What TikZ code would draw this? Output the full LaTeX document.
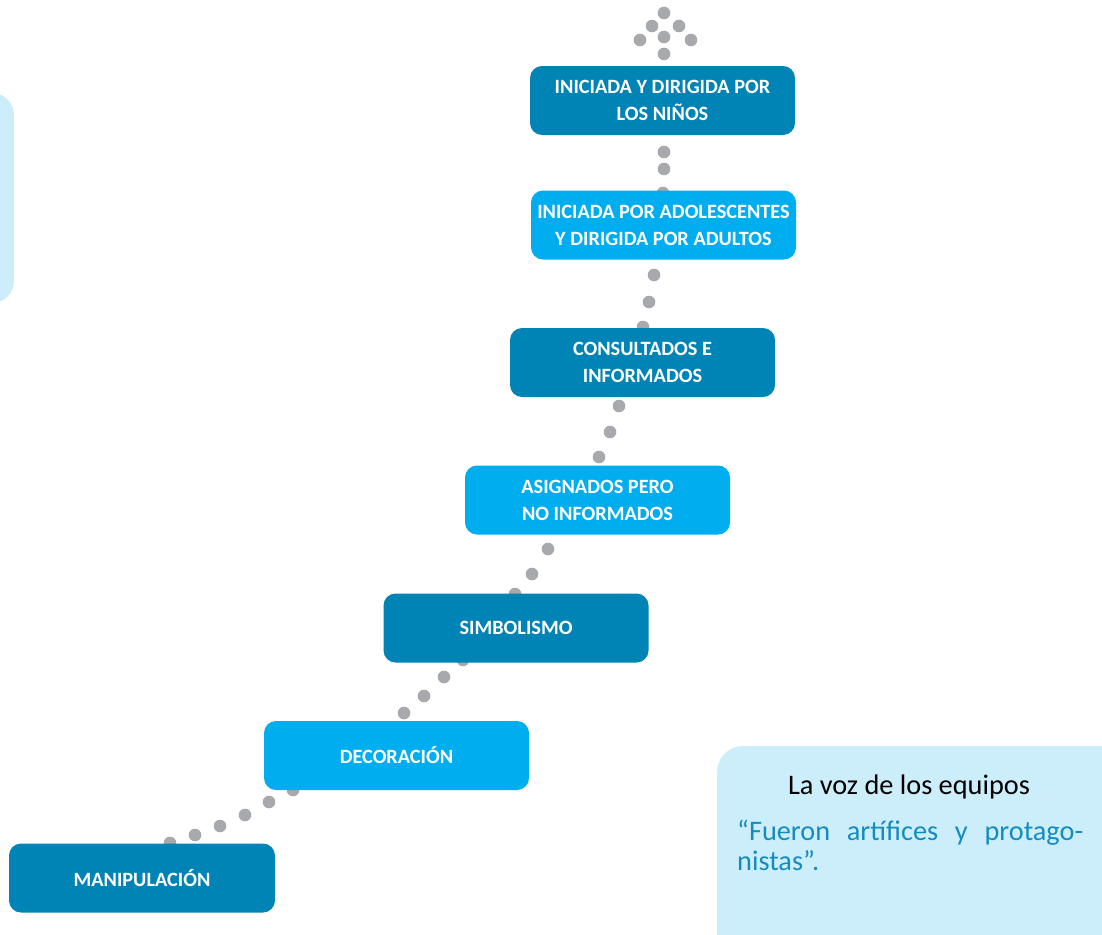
\documentclass[tikz,border=0pt]{standalone}
\usepackage{fontspec}
\setmainfont{Carlito}
\definecolor{darkb}{RGB}{0,131,181}
\definecolor{lightb}{RGB}{0,174,239}
\definecolor{paleb}{RGB}{204,238,250}
\definecolor{dotg}{RGB}{167,169,172}
\definecolor{quoteb}{RGB}{20,140,192}
\tikzset{
  level/.style={rectangle, rounded corners=12pt, minimum width=265pt, minimum height=69pt,
    inner sep=2pt, text=white, align=center,
    font=\fontsize{20.3}{27}\selectfont\bfseries},
  darklevel/.style={level, fill=darkb},
  lightlevel/.style={level, fill=lightb},
  dotc/.style={fill=dotg, draw=none},
}
\begin{document}
\begin{tikzpicture}[x=1pt,y=-1pt]
\useasboundingbox (0,0) rectangle (1102,934);
\clip (0,0) rectangle (1102,934);
% side panels
\fill[paleb, rounded corners=22pt] (-40,93) rectangle (14,303);
\fill[paleb, rounded corners=26pt] (717,746) rectangle (1140,980);
% dots
\foreach \x/\y in {664/13, 652/26, 679/26, 640/40, 664/37, 691/40, 664/54,
  664/152, 664/169, 663/193,
  654/275, 649/302, 643/327,
  619/406, 610/432, 599/457,
  548/549, 532/574, 515/594,
  463/660, 444/677, 424/696, 404/713,
  293/790, 269/802, 245/815, 220/826, 195/835, 170/843}
  \fill[dotc] (\x,\y) circle (6.3pt);
% level boxes
\node[darklevel]  (b1) at (662.5,100.5) {INICIADA Y DIRIGIDA POR\\LOS NIÑOS};
\node[lightlevel] (b2) at (663.5,225) {INICIADA POR ADOLESCENTES\\Y DIRIGIDA POR ADULTOS};
\node[darklevel]  (b3) at (642.5,362.5) {CONSULTADOS E\\INFORMADOS};
\node[lightlevel] (b4) at (597.5,500) {ASIGNADOS PERO\\NO INFORMADOS};
\node[darklevel]  (b5) at (516,628) {SIMBOLISMO};
\node[lightlevel] (b6) at (396.5,755.5) {DECORACIÓN};
\node[darklevel, minimum width=266pt]  (b7) at (142,878) {MANIPULACIÓN};
% quote box
\node[font=\fontsize{28.3}{30}\selectfont, text=black] (qt) at (909,787) {La voz de los equipos};
\node[anchor=north west, text width=346pt, inner sep=0pt, align=justify,
  font=\fontsize{28.3}{30}\selectfont, text=quoteb] (qx) at (737,820)
  {“Fueron artífices y protago-\linebreak nistas”.};
\end{tikzpicture}
\end{document}
